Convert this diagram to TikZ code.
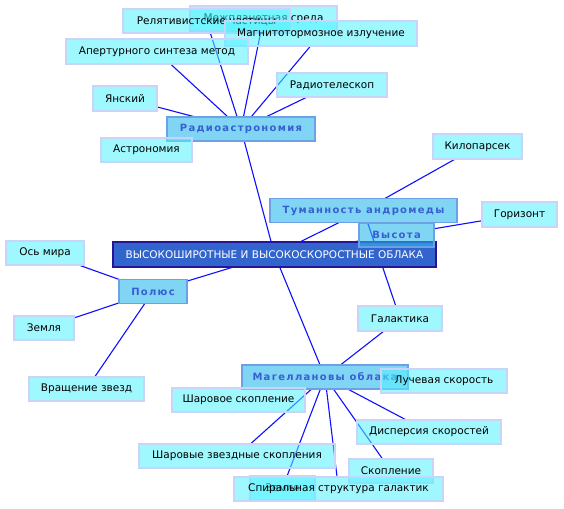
\documentclass[tikz,border=0pt]{standalone}
\usepackage{fontspec}
\setmainfont{DejaVu Sans}
\newfontfamily\conceptfont[LetterSpace=13]{DejaVu Sans Bold}
\usepackage{xcolor}
\usepackage{tikz}
\usetikzlibrary{backgrounds}

\definecolor{leaffill}{RGB}{82,242,255}
\definecolor{leafline}{RGB}{200,212,250}
\definecolor{conceptfill}{RGB}{43,183,237}
\definecolor{conceptline}{RGB}{110,160,230}
\definecolor{concepttext}{RGB}{55,95,210}
\definecolor{mainfill}{RGB}{50,100,205}
\definecolor{mainline}{RGB}{40,20,150}
\definecolor{linkblue}{RGB}{15,15,255}

\begin{document}
\begin{tikzpicture}[
		x=1pt, y=-1pt,
		font=\fontsize{10.5}{12}\selectfont,
		leaf/.style={draw=leafline, line width=1.2pt, fill=leaffill, fill opacity=0.55,
			text opacity=1, inner sep=0pt, outer sep=0pt, minimum height=24pt},
		concept/.style={draw=conceptline, line width=1.2pt, fill=conceptfill, fill opacity=0.6,
			text opacity=1, text=concepttext, inner sep=0pt, outer sep=0pt,
			minimum height=24pt, font=\conceptfont\fontsize{10}{12}\selectfont},
		mainbox/.style={draw=mainline, line width=1.2pt, fill=mainfill, text=white,
			inner sep=0pt, outer sep=0pt, minimum height=25pt},
		link/.style={draw=linkblue, line width=1.1pt}
		]
		\useasboundingbox (0,0) rectangle (564,508);

		% main topic
		\node[mainbox, minimum width=323pt] (clouds) at (274.5,254.5)
		{ВЫСОКОШИРОТНЫЕ И ВЫСОКОСКОРОСТНЫЕ ОБЛАКА};

		% concepts
		\node[concept, minimum width=148pt] (radio) at (241,129) {Радиоастрономия};
		\node[concept, minimum width=187pt] (andromeda) at (363.5,210.5) {Туманность андромеды};
		\node[concept, minimum width=75pt] (height) at (396.5,235) {Высота};
		\node[concept, minimum width=68pt] (pole) at (153,291.5) {Полюс};
		\node[concept, minimum width=166pt] (magellan) at (325,377) {Магеллановы облака};

		% leaves of the radio branch
		\node[leaf, minimum width=147pt, minimum height=25pt] (medium) at (263.5,18.5) {Межпланетная среда};
		\node[leaf, minimum width=167pt] (relativ) at (206.5,21) {Релятивистские частицы};
		\node[leaf, minimum width=192pt, minimum height=25pt] (synchro) at (321,33.5) {Магнитотормозное излучение};
		\node[leaf, minimum width=182pt, minimum height=25pt] (aperture) at (157,51.5) {Апертурного синтеза метод};
		\node[leaf, minimum width=110pt] (telescope) at (332,85) {Радиотелескоп};
		\node[leaf, minimum width=64pt, minimum height=25pt] (jansky) at (125,98.5) {Янский};
		\node[leaf, minimum width=91pt] (astro) at (146.5,150) {Астрономия};

		% leaves of the andromeda branch
		\node[leaf, minimum width=89pt, minimum height=25pt] (kpc) at (477.5,146.5) {Килопарсек};
		\node[leaf, minimum width=75pt, minimum height=25pt] (horizon) at (519.5,214.5) {Горизонт};
		\node[leaf, minimum width=84pt, minimum height=25pt] (galaxy) at (400,318.5) {Галактика};

		% leaves of the pole branch
		\node[leaf, minimum width=78pt] (axis) at (45,253) {Ось мира};
		\node[leaf, minimum width=60pt] (earth) at (44,328) {Земля};
		\node[leaf, minimum width=115pt] (rotation) at (86.5,389) {Вращение звезд};

		% leaves of the magellan branch
		\node[leaf, minimum width=126pt] (radial) at (444,381) {Лучевая скорость};
		\node[leaf, minimum width=133pt] (globular) at (238.5,400) {Шаровое скопление};
		\node[leaf, minimum width=144pt] (dispersion) at (429,432) {Дисперсия скоростей};
		\node[leaf, minimum width=196pt] (globulars) at (237,456) {Шаровые звездные скопления};
		\node[leaf, minimum width=84pt] (cluster) at (391,471) {Скопление};
		\node[leaf, minimum width=65pt] (earthb) at (282.5,488) {Земля};
		\node[leaf, minimum width=209pt] (spiral) at (338.5,489) {Спиральная структура галактик};

		\begin{scope}[on background layer]
			\draw[link] (radio) -- (clouds);
			\draw[link] (radio) -- (jansky);
			\draw[link] (radio) -- (aperture);
			\draw[link] (radio) -- (relativ);
			\draw[link] (radio) -- (medium);
			\draw[link] (radio) -- (synchro);
			\draw[link] (radio) -- (telescope);
			\draw[link] (clouds) -- (andromeda);
			\draw[link] (clouds) -- (height);
			\draw[link] (clouds) -- (pole);
			\draw[link] (clouds) -- (magellan);
			\draw[link] (andromeda) -- (kpc);
			\draw[link] (andromeda) -- (galaxy);
			\draw[link] (height) -- (horizon);
			\draw[link] (pole) -- (axis);
			\draw[link] (pole) -- (earth);
			\draw[link] (pole) -- (rotation);
			\draw[link] (magellan) -- (galaxy);
			\draw[link] (magellan) -- (globulars);
			\draw[link] (magellan) -- (earthb);
			\draw[link] (magellan) -- (spiral);
			\draw[link] (magellan) -- (cluster);
			\draw[link] (magellan) -- (dispersion);
		\end{scope}
	\end{tikzpicture}
\end{document}
